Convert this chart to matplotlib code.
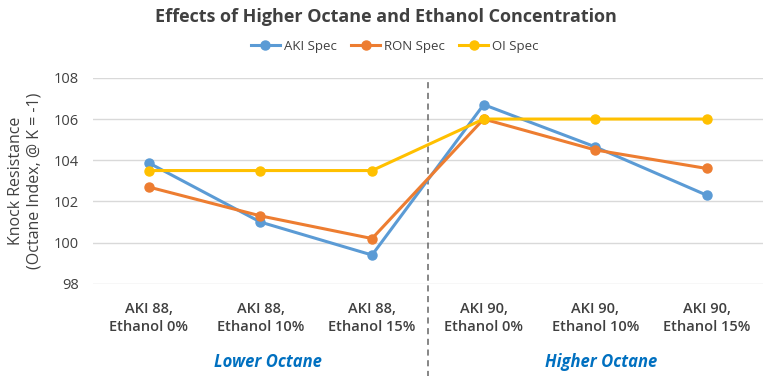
import matplotlib.pyplot as plt

plt.rcParams['font.family'] = ['Open Sans', 'DejaVu Sans']

categories = ['AKI 88,\nEthanol 0%', 'AKI 88,\nEthanol 10%', 'AKI 88,\nEthanol 15%',
              'AKI 90,\nEthanol 0%', 'AKI 90,\nEthanol 10%', 'AKI 90,\nEthanol 15%']
aki_spec = [103.87, 101.0, 99.4, 106.7, 104.65, 102.3]
ron_spec = [102.7, 101.3, 100.2, 106.0, 104.5, 103.6]
oi_spec = [103.5, 103.5, 103.5, 106.0, 106.0, 106.0]
groups = ['Lower Octane', 'Higher Octane']
yticks = [98, 100, 102, 104, 106, 108]

fig = plt.figure(figsize=(7.65, 3.76), dpi=100)
ax = fig.add_axes([0.1216, 0.245, 0.8754, 0.548])

x = range(len(categories))
series = [('AKI Spec', aki_spec, '#5B9BD5'),
          ('RON Spec', ron_spec, '#ED7D31'),
          ('OI Spec', oi_spec, '#FFC000')]
for name, vals, col in series:
    ax.plot(x, vals, color=col, lw=2.2, marker='o', ms=6.5, label=name, zorder=3)

ax.set_xlim(-0.5, len(categories) - 0.5)
ax.set_ylim(98, 108)
ax.set_yticks(yticks)
ax.set_xticks(list(x))
ax.set_xticklabels(categories, fontsize=10.5, color='#404040', fontweight='semibold',
                   linespacing=1.35)
ax.tick_params(axis='y', labelsize=10.5, labelcolor='#404040', length=0, pad=10)
ax.tick_params(axis='x', length=0, pad=13)
ax.grid(axis='y', color='#D9D9D9', lw=1)
ax.set_axisbelow(True)
for s in ax.spines.values():
    s.set_visible(False)

# separator between the two groups
ax.axvline(2.5, ymin=-0.45, ymax=0.98, color='#666666', ls=(0, (4, 3)), lw=1.1, clip_on=False)

ax.text(1.07, -0.38, groups[0], transform=ax.get_xaxis_transform(), ha='center', va='center',
        fontsize=12, color='#0070C0', fontstyle='italic', fontweight='bold')
ax.text(4.05, -0.38, groups[1], transform=ax.get_xaxis_transform(), ha='center', va='center',
        fontsize=12, color='#0070C0', fontstyle='italic', fontweight='bold')

ax.set_ylabel('Knock Resistance\n(Octane Index, @ K = -1)', fontsize=11.5, color='#404040',
              linespacing=1.2)
ax.yaxis.set_label_coords(-0.075, 0.5)

fig.suptitle('Effects of Higher Octane and Ethanol Concentration', x=0.505, y=0.98,
             fontsize=13, fontweight='bold', color='#404040')
fig.legend(loc='center', bbox_to_anchor=(0.516, 0.877), ncol=3, frameon=False,
           fontsize=9.5, labelcolor='#404040', handlelength=2.2, handletextpad=0.3,
           columnspacing=1.1)

fig.savefig('out.png', dpi=100)
